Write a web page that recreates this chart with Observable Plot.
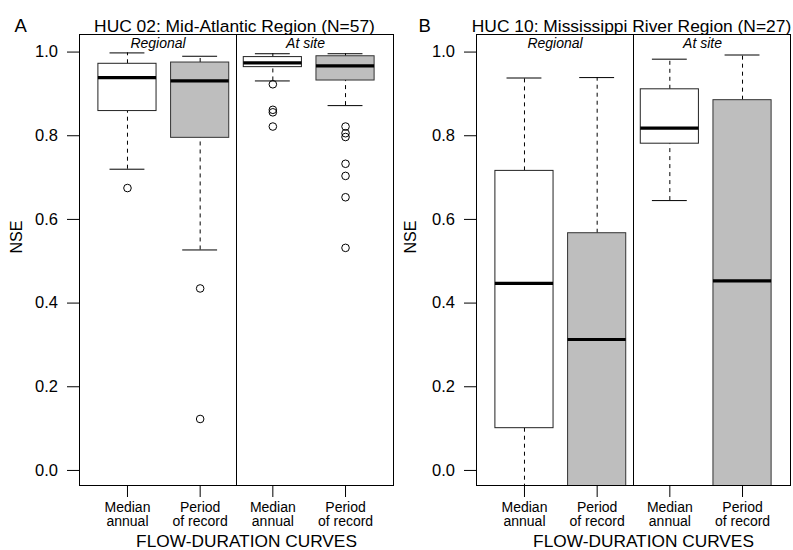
<!DOCTYPE html>
<html>
<head>
<meta charset="utf-8">
<script src="https://cdn.jsdelivr.net/npm/d3@7"></script>
<script src="https://cdn.jsdelivr.net/npm/@observablehq/plot@0.6"></script>
<style>
  html, body { margin: 0; padding: 0; background: #fff; }
  #figure { display: flex; width: 793px; height: 550px; }
</style>
</head>
<body>
<div id="figure"></div>
<script>
// Box positions along the x axis: two methods, two flow-duration curve types each
const methods = ["Regional", "At site"];
const curveLabels = ["Median\nannual", "Period\nof record", "Median\nannual", "Period\nof record"];
const curveKind = ["median", "period", "median", "period"];
const yTicks = [0, 0.2, 0.4, 0.6, 0.8, 1.0];

// HUC 02: Mid-Atlantic Region — NSE box statistics
const hucA_title = "HUC 02: Mid-Atlantic Region (N=57)";
const hucA_lower = [0.720, 0.527, 0.931, 0.872];
const hucA_q1 = [0.859, 0.795, 0.964, 0.932];
const hucA_median = [0.939, 0.931, 0.974, 0.967];
const hucA_q3 = [0.972, 0.975, 0.988, 0.990];
const hucA_upper = [0.998, 0.990, 0.996, 0.996];
const hucA_outliers = [
  [0.675],
  [0.435, 0.123],
  [0.923, 0.862, 0.856, 0.822],
  [0.822, 0.806, 0.797, 0.733, 0.704, 0.653, 0.532]
];

// HUC 10: Mississippi River Region — NSE box statistics (lower parts run below the axis)
const hucB_title = "HUC 10: Mississippi River Region (N=27)";
const hucB_lower = [-0.75, -1.6, 0.645, -1.2];
const hucB_q1 = [0.101, -0.35, 0.781, -0.25];
const hucB_median = [0.447, 0.313, 0.818, 0.453];
const hucB_q3 = [0.716, 0.567, 0.911, 0.885];
const hucB_upper = [0.938, 0.939, 0.983, 0.993];
const hucB_outliers = [[], [], [], []];

const GRAY = "#bebebe";
const FONT = "'Liberation Sans', Arial, Helvetica, sans-serif";
const X_DOMAIN = [0.34, 4.66];
const HALF_BOX = 0.4;
const HALF_CAP = 0.24;

function buildBoxes(lower, q1, median, q3, upper) {
  return curveLabels.map((label, i) => ({
    pos: i + 1, kind: curveKind[i], lower: lower[i], q1: q1[i],
    median: median[i], q3: q3[i], upper: upper[i]
  }));
}

function buildOutliers(outliers) {
  return outliers.flatMap((vals, i) => vals.map(v => ({pos: i + 1, value: v})));
}

function panel({letter, title, boxes, outliers, width, marginRight, nseDx, titleDx, letterDx}) {
  const methodPos = [(X_DOMAIN[0] + 2.5) / 2, 3.45];
  return Plot.plot({
    width,
    height: 550,
    marginTop: 34,
    marginBottom: 65,
    marginLeft: 79,
    marginRight,
    style: {fontFamily: FONT, fontSize: "16.5px", background: "white", color: "black", overflow: "visible"},
    x: {domain: X_DOMAIN, ticks: [1, 2, 3, 4], tickSize: 12, tickFormat: () => "", label: null},
    y: {domain: [-0.036, 1.042], ticks: yTicks, tickFormat: ".1f", tickSize: 12, tickPadding: 9.5, label: null},
    marks: [
      // whiskers (dashed) from box to extremes
      Plot.ruleX(boxes, {x: "pos", y1: "q3", y2: "upper", stroke: "black", strokeWidth: 1, strokeDasharray: "4,4", clip: true}),
      Plot.ruleX(boxes, {x: "pos", y1: "lower", y2: "q1", stroke: "black", strokeWidth: 1, strokeDasharray: "4,4", clip: true}),
      // whisker caps
      Plot.ruleY(boxes, {y: "upper", x1: d => d.pos - HALF_CAP, x2: d => d.pos + HALF_CAP, stroke: "black", strokeWidth: 1, clip: true}),
      Plot.ruleY(boxes, {y: "lower", x1: d => d.pos - HALF_CAP, x2: d => d.pos + HALF_CAP, stroke: "black", strokeWidth: 1, clip: true}),
      // interquartile boxes
      Plot.rect(boxes.filter(d => d.kind === "median"), {x1: d => d.pos - HALF_BOX, x2: d => d.pos + HALF_BOX, y1: "q1", y2: "q3", fill: "white", stroke: "#222", strokeWidth: 1, clip: true}),
      Plot.rect(boxes.filter(d => d.kind === "period"), {x1: d => d.pos - HALF_BOX, x2: d => d.pos + HALF_BOX, y1: "q1", y2: "q3", fill: GRAY, stroke: "#333", strokeWidth: 1, clip: true}),
      // medians
      Plot.ruleY(boxes, {y: "median", x1: d => d.pos - HALF_BOX, x2: d => d.pos + HALF_BOX, stroke: "black", strokeWidth: 3.2, clip: true}),
      // outliers
      Plot.dot(outliers, {x: "pos", y: "value", r: 3.8, stroke: "black", strokeWidth: 1, fill: "none", clip: true}),
      // divider between regional and at-site curves
      Plot.ruleX([2.5], {stroke: "black", strokeWidth: 1}),
      Plot.frame({stroke: "black", strokeWidth: 1}),
      // method labels inside the frame
      Plot.text(methods, {x: (d, i) => methodPos[i], text: d => d, frameAnchor: "top", lineAnchor: "bottom", dy: 13.3, fontSize: 14, fontStyle: "italic"}),
      // two-line tick labels
      Plot.text(curveLabels, {x: (d, i) => i + 1, text: d => d, frameAnchor: "bottom", lineAnchor: "top", dy: 15.8, fontSize: 14, lineHeight: 1.04}),
      // axis titles
      Plot.text(["FLOW-DURATION CURVES"], {frameAnchor: "bottom", lineAnchor: "bottom", dy: 61.7, dx: 10, fontSize: 17.3}),
      Plot.text(["NSE"], {frameAnchor: "left", rotate: -90, lineAnchor: "middle", dx: nseDx, dy: -6.5, fontSize: 16}),
      // panel title and letter
      Plot.text([title], {frameAnchor: "top", lineAnchor: "bottom", dy: -2.3, dx: titleDx, fontSize: 17.4}),
      Plot.text([letter], {frameAnchor: "top-left", textAnchor: "start", lineAnchor: "bottom", dy: -2.3, dx: letterDx, fontSize: 18.5})
    ]
  });
}

const fig = document.getElementById("figure");
fig.append(panel({
  letter: "A", title: hucA_title,
  boxes: buildBoxes(hucA_lower, hucA_q1, hucA_median, hucA_q3, hucA_upper),
  outliers: buildOutliers(hucA_outliers),
  width: 397, marginRight: 4, nseDx: -62.3, titleDx: -2, letterDx: -65
}));
fig.append(panel({
  letter: "B", title: hucB_title,
  boxes: buildBoxes(hucB_lower, hucB_q1, hucB_median, hucB_q3, hucB_upper),
  outliers: buildOutliers(hucB_outliers),
  width: 396, marginRight: 3, nseDx: -66, titleDx: -2, letterDx: -58
}));
</script>
</body>
</html>
